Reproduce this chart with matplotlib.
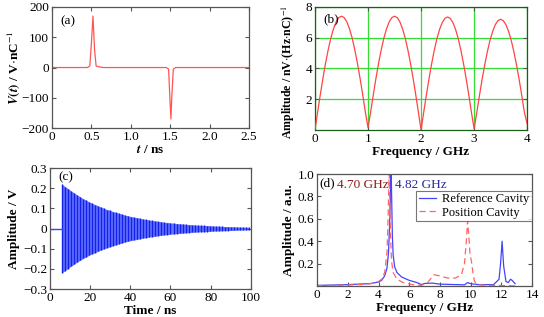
import matplotlib
matplotlib.use("Agg")
import matplotlib.pyplot as plt
import numpy as np

plt.rcParams['font.family'] = ['Liberation Serif', 'DejaVu Serif']
plt.rcParams['mathtext.fontset'] = 'stix'
plt.rcParams['font.size'] = 9.5

# (a) impulse response
a_t = [0, 0.45, 0.48, 0.50, 0.52, 0.54, 0.56, 0.60, 0.65, 1.45, 1.48, 1.50, 1.51, 1.52, 1.54, 1.57, 2.5]
a_v = [0, 0, 5, 80, 170, 60, 5, 2, 0, 0, -5, -120, -170, -100, -5, 0, 0]

# (b) spectrum, 0..4 GHz in 0.05 GHz steps
b_f = np.arange(0, 4.001, 0.05)
b_amp = [0, 1.16, 2.29, 3.36, 4.35, 5.23, 5.99, 6.59, 7.04, 7.31, 7.40, 7.31, 7.04, 6.59, 5.99, 5.23, 4.35, 3.36, 2.29, 1.16,
         0.15, 1.18, 2.30, 3.37, 4.35, 5.23, 5.99, 6.59, 7.04, 7.31, 7.40, 7.31, 7.04, 6.59, 5.99, 5.23, 4.35, 3.36, 2.29, 1.15,
         0.0, 1.15, 2.27, 3.34, 4.32, 5.20, 5.95, 6.55, 6.99, 7.26, 7.35, 7.26, 6.99, 6.55, 5.95, 5.20, 4.32, 3.34, 2.27, 1.14,
         0.08, 1.12, 2.22, 3.27, 4.23, 5.09, 5.83, 6.41, 6.85, 7.11, 7.20, 7.11, 6.85, 6.41, 5.83, 5.09, 4.23, 3.27, 2.22, 1.12,
         0.40]

# (c) ringing signal: peak amplitude of each stripe
c_t = np.arange(6, 100, 1.5)
c_peak = [0.220, 0.208, 0.198, 0.186, 0.177, 0.166, 0.158, 0.148, 0.141, 0.132,
          0.125, 0.119, 0.112, 0.106, 0.100, 0.094, 0.090, 0.084, 0.080, 0.075,
          0.071, 0.066, 0.063, 0.059, 0.056, 0.054, 0.050, 0.047, 0.045, 0.042,
          0.040, 0.038, 0.035, 0.034, 0.031, 0.030, 0.028, 0.027, 0.025, 0.024,
          0.023, 0.021, 0.020, 0.019, 0.018, 0.017, 0.016, 0.016, 0.015, 0.014,
          0.013, 0.012, 0.012, 0.011, 0.010, 0.010, 0.009, 0.009, 0.008, 0.008,
          0.007, 0.007, 0.006]
c_pre_t = [0, 5.8]
c_pre_v = [0, 0]

# (d) cavity spectra
ref_f = [0, 1, 2, 3, 3.5, 4.0, 4.2, 4.4, 4.55, 4.65, 4.72, 4.78, 4.82, 4.86, 4.9, 4.95, 5.05, 5.2, 5.5, 6.0, 6.5, 6.8,
         7.0, 7.5, 8.0, 9.0, 9.6, 9.8, 10.0, 10.5, 11.5, 11.85, 11.95, 12.05, 12.15, 12.3, 12.45, 12.6, 12.7, 12.9]
ref_a = [0.005, 0.008, 0.012, 0.018, 0.022, 0.035, 0.05, 0.09, 0.16, 0.30, 0.55, 0.85, 1.05, 0.75, 0.45, 0.28, 0.17, 0.12, 0.08, 0.05, 0.03, 0.012,
         0.022, 0.025, 0.016, 0.012, 0.01, 0.03, 0.02, 0.012, 0.012, 0.06, 0.2, 0.40, 0.18, 0.04, 0.03, 0.06, 0.05, 0.02]
pos_f = [0, 1, 2, 3, 3.5, 4.0, 4.2, 4.4, 4.55, 4.62, 4.67, 4.70, 4.74, 4.78, 4.85, 4.95, 5.2, 5.6, 6.2, 6.8,
         7.2, 7.6, 8.0, 8.5, 9.0, 9.4, 9.6, 9.72, 9.8, 9.88, 9.95, 10.05, 10.15, 10.25, 10.5, 11.0, 12.0, 12.9]
pos_a = [0.003, 0.005, 0.008, 0.014, 0.02, 0.04, 0.06, 0.12, 0.3, 0.6, 0.9, 1.0, 0.7, 0.45, 0.22, 0.12, 0.06, 0.03, 0.012, 0.005,
         0.03, 0.10, 0.09, 0.07, 0.07, 0.10, 0.2, 0.4, 0.58, 0.45, 0.3, 0.22, 0.12, 0.04, 0.01, 0.006, 0.004, 0.0]

frame = '#555555'
fig = plt.figure(figsize=(5.44, 3.17), dpi=100)


def style(ax, top=True):
    for s in ax.spines.values():
        s.set_color(frame)
        s.set_linewidth(0.9)
    ax.tick_params(direction='in', top=top, right=True, length=3, width=0.8, color=frame, pad=2)


# (a)
ax = fig.add_axes([0.0956, 0.596, 0.362, 0.382])
ax.plot(a_t, a_v, color='#ff5555', lw=0.9)
ax.set_xlim(0, 2.5)
ax.set_ylim(-200, 200)
ax.set_xticks([0, 0.5, 1.0, 1.5, 2.0, 2.5])
ax.set_xticklabels(['0', '0.5', '1.0', '1.5', '2.0', '2.5'])
ax.set_yticks([-200, -100, 0, 100, 200])
ax.set_yticklabels(['\u2212200', '\u2212100', '0', '100', '200'])
ax.set_xlabel(r'$\boldsymbol{t}$ / ns', fontweight='bold', labelpad=1)
ax.set_ylabel(r'$\boldsymbol{V(t)}$ / V$\cdot$nC$^{-1}$', fontweight='bold', labelpad=0)
ax.text(0.04, 0.93, '(a)', transform=ax.transAxes, va='top')
style(ax)

# (b)
ax = fig.add_axes([0.579, 0.590, 0.390, 0.388])
ax.plot(b_f, b_amp, color='#ff4444', lw=0.9, zorder=3)
ax.set_xlim(0, 4)
ax.set_ylim(0, 8)
ax.set_xticks([0, 1, 2, 3, 4])
ax.set_yticks([2, 4, 6, 8])
ax.grid(True, color='#33dd33', lw=0.9)
ax.set_xlabel('Frequency / GHz', fontweight='bold', labelpad=1)
ax.set_ylabel(r'Amplitude / nV$\cdot$(Hz$\cdot$nC)$^{-1}$', fontweight='bold', labelpad=2, fontsize=8.6)
ax.yaxis.set_label_coords(-0.085, 0.47)
ax.text(0.04, 0.95, '(b)', transform=ax.transAxes, va='top')
style(ax)
for s in ax.spines.values():
    s.set_color('#1a5e1a')

# (c)
ax = fig.add_axes([0.092, 0.088, 0.369, 0.382])
c_peak = np.array(c_peak)
ax.fill_between(c_t, -c_peak, c_peak, color='#3344ff', alpha=0.75, lw=0)
ax.vlines(c_t, -c_peak, c_peak, color='#1122ee', lw=1.0)
ax.plot(c_pre_t, c_pre_v, color='#3344ff', lw=1.0)
ax.set_xlim(0, 100)
ax.set_ylim(-0.3, 0.3)
ax.set_xticks([0, 20, 40, 60, 80, 100])
ax.set_yticks([-0.3, -0.2, -0.1, 0, 0.1, 0.2, 0.3])
ax.set_yticklabels(['\u22120.3', '\u22120.2', '\u22120.1', '0', '0.1', '0.2', '0.3'])
ax.set_xlabel('Time / ns', fontweight='bold', labelpad=1)
ax.set_ylabel('Amplitude / V', fontweight='bold', labelpad=2)
ax.text(0.04, 0.97, '(c)', transform=ax.transAxes, va='top')
style(ax)

# (d)
ax = fig.add_axes([0.583, 0.098, 0.395, 0.353])
ax.plot(ref_f, ref_a, color='#4444ff', lw=0.9, label='Reference Cavity')
ax.plot(pos_f, pos_a, color='#ff6666', lw=0.9, ls=(0, (5, 3)), label='Position Cavity')
ax.set_xlim(0, 14)
ax.set_ylim(0, 1.0)
ax.set_xticks([0, 2, 4, 6, 8, 10, 12, 14])
ax.set_yticks([0.2, 0.4, 0.6, 0.8, 1.0])
ax.set_xlabel('Frequency / GHz', fontweight='bold', labelpad=1)
ax.set_ylabel('Amplitude / a.u.', fontweight='bold', labelpad=2)
ax.text(0.012, 0.97, '(d)', transform=ax.transAxes, va='top')
ax.text(1.3, 0.955, '4.70 GHz', color='#8b1a1a', ha='left', va='top')
ax.text(5.1, 0.955, '4.82 GHz', color='#2a2a99', ha='left', va='top')
leg = ax.legend(loc='upper right', bbox_to_anchor=(1.0, 0.85), frameon=True, fancybox=False,
                fontsize=9, handlelength=1.4, borderpad=0.2, labelspacing=0.1, handletextpad=0.5,
                borderaxespad=0.0)
leg.get_frame().set_edgecolor(frame)
leg.get_frame().set_linewidth(0.8)
style(ax, top=False)

fig.savefig('out.png', dpi=100)
